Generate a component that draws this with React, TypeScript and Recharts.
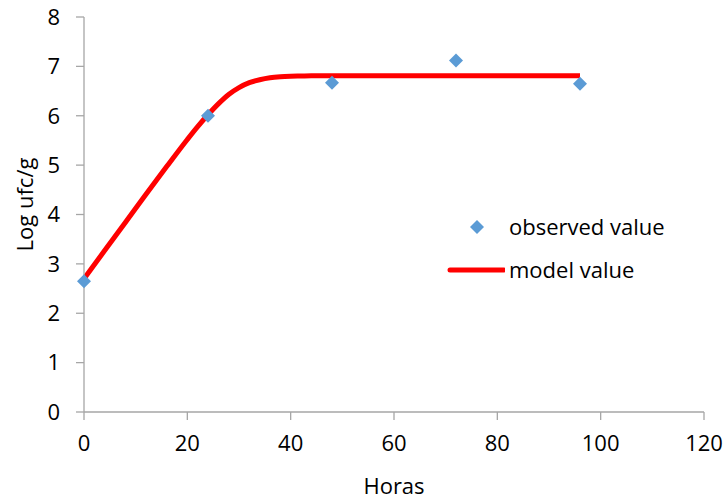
import React from "react";
import {
  ComposedChart,
  Line,
  Scatter,
  XAxis,
  YAxis,
  Legend,
} from "recharts";

// Observed data points (hours, log ufc/g)
const observedHours = [0, 24, 48, 72, 96];
const observedValues = [2.65, 6.0, 6.67, 7.12, 6.65];

// Model curve points (hours, log ufc/g)
const modelHours = [0, 4, 8, 12, 16, 20, 22, 24, 26, 28, 30, 32, 34, 36, 38, 40, 42, 44, 50, 60, 70, 80, 90, 96];
const modelValues = [2.7, 3.27, 3.84, 4.41, 4.97, 5.52, 5.78, 6.02, 6.24, 6.43, 6.57, 6.67, 6.73, 6.77, 6.79, 6.8, 6.805, 6.81, 6.81, 6.81, 6.81, 6.81, 6.81, 6.81];

const xTicks = [0, 20, 40, 60, 80, 100, 120];
const yTicks = [0, 1, 2, 3, 4, 5, 6, 7, 8];

const observedData = observedHours.map((h, i) => ({ h, v: observedValues[i] }));
const modelData = modelHours.map((h, i) => ({ h, v: modelValues[i] }));

const FONT = "'Open Sans', sans-serif";
const FS = 22;
const AXIS_COLOR = "#a6a6a6";
const BLUE = "#5b9bd5";
const RED = "#ff0000";

const Diamond = (props: any) => {
  const { cx, cy } = props;
  const r = 7;
  return (
    <polygon
      points={`${cx},${cy - r} ${cx + r},${cy} ${cx},${cy + r} ${cx - r},${cy}`}
      fill={BLUE}
    />
  );
};

const LegendContent = () => (
  <div style={{ fontFamily: FONT, fontSize: FS, color: "#000", lineHeight: "43px" }}>
    <div style={{ display: "flex", alignItems: "center" }}>
      <svg width={60} height={20} style={{ display: "block" }}>
        <polygon points="32,3 39,10 32,17 25,10" fill={BLUE} />
      </svg>
      <span style={{ marginLeft: 4 }}>observed value</span>
    </div>
    <div style={{ display: "flex", alignItems: "center" }}>
      <svg width={60} height={20} style={{ display: "block" }}>
        <line x1={5} y1={10} x2={59} y2={10} stroke={RED} strokeWidth={5} strokeLinecap="round" />
      </svg>
      <span style={{ marginLeft: 4 }}>model value</span>
    </div>
  </div>
);

export default function App() {
  return (
    <div style={{ position: "absolute", left: 0, top: 0, background: "#fff" }}>
      <ComposedChart
        width={728}
        height={499}
        margin={{ top: 17, right: 24, bottom: 0, left: 0 }}
        style={{ fontFamily: FONT }}
      >
        <XAxis
          type="number"
          dataKey="h"
          domain={[0, 120]}
          ticks={xTicks}
          interval={0}
          height={87}
          tickSize={8}
          tickMargin={15}
          axisLine={{ stroke: AXIS_COLOR, strokeWidth: 1.3 }}
          tickLine={{ stroke: AXIS_COLOR, strokeWidth: 1.3 }}
          tick={{ fill: "#000", fontSize: FS, fontFamily: FONT }}
          label={{
            value: "Horas",
            position: "insideBottom",
            offset: 5,
            fill: "#000",
            fontSize: FS,
            fontFamily: FONT,
          }}
        />
        <YAxis
          type="number"
          dataKey="v"
          domain={[0, 8]}
          ticks={yTicks}
          interval={0}
          width={84}
          tickSize={8}
          tickMargin={16}
          axisLine={{ stroke: AXIS_COLOR, strokeWidth: 1.3 }}
          tickLine={{ stroke: AXIS_COLOR, strokeWidth: 1.3 }}
          tick={{ fill: "#000", fontSize: FS, fontFamily: FONT }}
          label={{
            value: "Log ufc/g",
            angle: -90,
            position: "center",
            dx: -17,
            dy: -10,
            fill: "#000",
            fontSize: FS,
            fontFamily: FONT,
          }}
        />
        <Line
          data={modelData}
          dataKey="v"
          name="model value"
          type="monotone"
          stroke={RED}
          strokeWidth={5}
          dot={false}
          activeDot={false}
          isAnimationActive={false}
        />
        <Scatter
          data={observedData}
          dataKey="v"
          name="observed value"
          fill={BLUE}
          shape={<Diamond />}
          isAnimationActive={false}
        />
        <Legend
          layout="horizontal"
          verticalAlign="middle"
          align="center"
          content={<LegendContent />}
          wrapperStyle={{ position: "absolute", left: 445, top: 205, width: 280, height: 90 }}
        />
      </ComposedChart>
    </div>
  );
}
